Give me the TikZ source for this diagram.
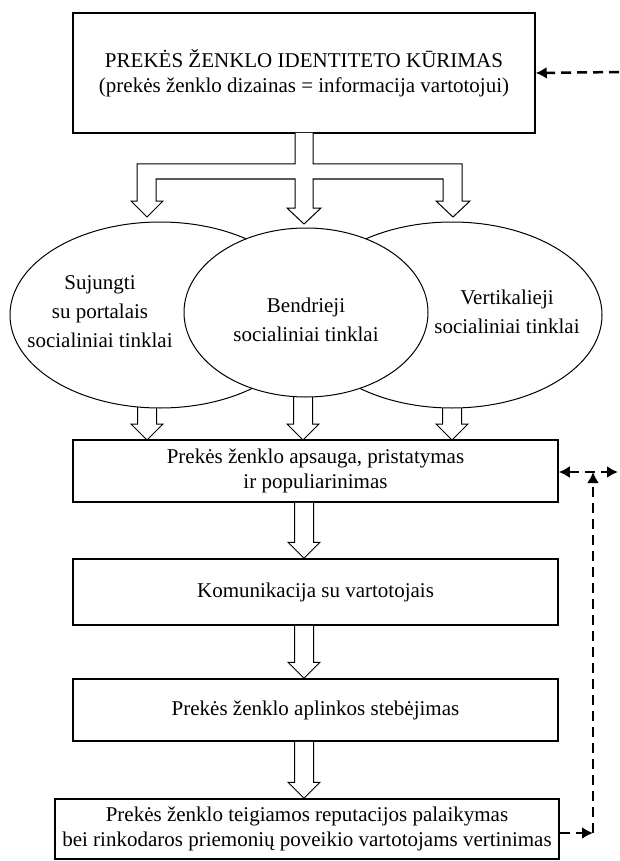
\documentclass[tikz,border=0pt]{standalone}
\usepackage{fontspec}
\setmainfont{Liberation Serif}
\usetikzlibrary{shapes.geometric,arrows.meta,calc}

\pgfdeclarelayer{bg}
\pgfsetlayers{bg,main}

\tikzset{
  stage/.style={draw,line width=1.5pt,fill=white,inner sep=0pt,align=center},
  oval/.style={draw,line width=1pt,fill=white,ellipse,inner sep=0pt,minimum width=#1},
  ovaltext/.style={align=center,font=\fontsize{21}{29}\selectfont},
  hollow/.style={draw,line width=1pt,fill=white,line join=miter},
  fb/.style={line width=2.5pt,dash pattern=on 10pt off 6pt,-{Latex[length=11pt,width=12pt]}}
}

% block arrow from the y of #1 down to the point #2
\newcommand\blkarrow[2]{%
  \draw[hollow] let \p1=#1, \p2=#2 in
    (\x2-9.5pt,\y1) -- (\x2-9.5pt,\y2+16pt) -- (\x2-16pt,\y2+16pt) -- (\x2,\y2)
    -- (\x2+16pt,\y2+16pt) -- (\x2+9.5pt,\y2+16pt) -- (\x2+9.5pt,\y1);}

\begin{document}
\begin{tikzpicture}[x=1pt,y=-1pt,font=\fontsize{21}{25}\selectfont]
\useasboundingbox (0,0) rectangle (619,861);

% boxes
\node[stage,minimum width=462pt,minimum height=120pt] (top) at (304,73)
  {PREKĖS ŽENKLO IDENTITETO KŪRIMAS\\(prekės ženklo dizainas = informacija vartotojui)};
\node[stage,minimum width=485pt,minimum height=62pt] (box2) at (315.5,471)
  {Prekės ženklo apsauga, pristatymas\\ir populiarinimas};
\node[stage,minimum width=485pt,minimum height=66pt] (box3) at (315.5,592)
  {Komunikacija su vartotojais};
\node[stage,minimum width=485pt,minimum height=62pt] (box4) at (315.5,710)
  {Prekės ženklo aplinkos stebėjimas};
\node[stage,minimum width=504pt,minimum height=60pt] (box5) at (307,829)
  {Prekės ženklo teigiamos reputacijos palaikymas\\bei rinkodaros priemonių poveikio vartotojams vertinimas};

% social networks
\node[oval=300pt,minimum height=186pt] (sujungti) at (160,315) {};
\node[oval=300pt,minimum height=186pt] (vertikal) at (452,315) {};
\node[oval=244pt,minimum height=169pt] (bendri) at (306,312.5) {};
\node[ovaltext] (t1) at (100,312) {Sujungti\\su portalais\\socialiniai tinklai};
\node[ovaltext] (t2) at (306,320) {Bendrieji\\socialiniai tinklai};
\node[ovaltext] (t3) at (507,312) {Vertikalieji\\socialiniai tinklai};

% fork
\draw[hollow] (295,133) -- (295,164) -- (137,164) -- (137,201) -- (131,201) -- (147,217)
  -- (163,201) -- (156,201) -- (156,179) -- (295,179) -- (295,208) -- (287,208)
  -- (304,224) -- (321,208) -- (313,208) -- (313,179) -- (443,179) -- (443,201)
  -- (436,201) -- (453,217) -- (470,201) -- (462,201) -- (462,164) -- (313,164) -- (313,133);

\coordinate (a1) at (147,440);
\coordinate (a2) at (303,440);
\coordinate (a3) at (452,440);
\begin{pgfonlayer}{bg}
\blkarrow{(sujungti.center)}{(a1)}
\blkarrow{(bendri.center)}{(a2)}
\blkarrow{(vertikal.center)}{(a3)}
\end{pgfonlayer}

\blkarrow{(box2.south)}{(box3.north -| top.south)}
\blkarrow{(box3.south)}{(box4.north -| top.south)}
\blkarrow{(box4.south)}{(box5.north -| top.south)}

% feedback
\coordinate (in1) at (619,72);
\coordinate (corner) at (593,833);
\coordinate (joint) at (593,472);
\coordinate (out2) at (618,472);
\draw[fb] (in1) -- (top.east);
\draw[fb] (box5.east |- corner) -- (corner);
\draw[fb] (corner) -- (joint);
\draw[fb,{Latex[length=11pt,width=12pt]}-{Latex[length=11pt,width=12pt]}] (box2.east |- joint) -- (out2);

\end{tikzpicture}
\end{document}
